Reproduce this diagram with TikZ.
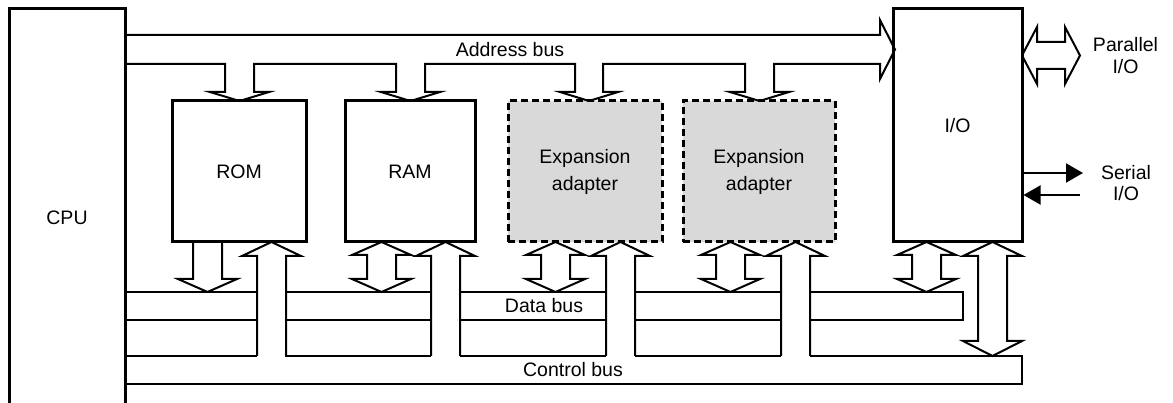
\documentclass[tikz,border=0pt]{standalone}
\usepackage{fontspec}
\setmainfont{Liberation Sans}
\usetikzlibrary{arrows.meta}
\begin{document}
\begin{tikzpicture}[x=1pt,y=-1pt, line join=miter,
  box/.style={draw, line width=3pt, inner sep=0pt, align=center, fill=white,
    font=\fontsize{19.5}{27}\selectfont},
  expbox/.style={box, fill=black!15, dash pattern=on 7pt off 4pt},
  bus/.style={line width=2pt},
  lbl/.style={font=\fontsize{19.5}{22}\selectfont, inner sep=0pt, align=center},
  sig/.style={line width=2pt, -{Triangle[length=17pt,width=19pt]}}]
\useasboundingbox (0,0) rectangle (1173,403);

% CPU
\draw[line width=3pt] (9,410) -- (9,9) -- (125,9) -- (125,410);
\node[lbl] (cpu) at (67,218) {CPU};

% boxes
\node[box, minimum width=134pt, minimum height=141pt] (rom) at (239,171.5) {ROM};
\node[box, minimum width=130pt, minimum height=141pt] (ram) at (410,171.5) {RAM};
\node[expbox, minimum width=154pt, minimum height=141pt] (exp1) at (585,171.5) {Expansion\\adapter};
\node[expbox, minimum width=152pt, minimum height=141pt] (exp2) at (759,171.5) {Expansion\\adapter};
\node[box, minimum width=129pt, minimum height=233pt] (io) at (957.5,125.5) {I/O};

% address bus
\draw[bus] (125,35) -- (880,35) -- (880,20) -- (895,49.5) -- (880,79) -- (880,64)
  -- (774,64) -- (774,92) -- (789,92) -- (759.5,101) -- (730,92) -- (745,92) -- (745,64)
  -- (603,64) -- (603,92) -- (618,92) -- (589,101) -- (560,92) -- (575,92) -- (575,64)
  -- (425,64) -- (425,92) -- (440,92) -- (410.5,101) -- (381,92) -- (396,92) -- (396,64)
  -- (254,64) -- (254,92) -- (269,92) -- (239.5,101) -- (210,92) -- (225,92) -- (225,64)
  -- (125,64);
\node[lbl] (addr) at (510,50) {Address bus};

% data and control bus lines
\foreach \a/\b in {125/257, 285/431, 460/606, 635/781} {
  \draw[bus] (\a,292) -- (\b,292);
  \draw[bus] (\a,320) -- (\b,320);
  \draw[bus] (\a,356) -- (\b,356);
}
\draw[bus] (810,292) -- (963,292) -- (963,320) -- (810,320);
\draw[bus] (810,356) -- (1022,356) -- (1022,384) -- (125,384);
\node[lbl] (data) at (544,306) {Data bus};
\node[lbl] (ctrl) at (573,370) {Control bus};

% ROM -> data bus
\draw[bus] (193,242) -- (193,279) -- (178,279) -- (207.5,292) -- (237,279) -- (222,279) -- (222,242);

% control bus -> boxes
\foreach \a in {257,431,606,781} {
  \draw[bus] (\a,356) -- (\a,256) -- ({\a-15},256) -- ({\a+14.5},242) -- ({\a+44},256)
    -- ({\a+29},256) -- ({\a+29},356);
}

% boxes <-> data bus
\foreach \a in {367,541,716,912} {
  \draw[bus] (\a,255) -- ({\a-15},255) -- ({\a+14.5},242) -- ({\a+44},255) -- ({\a+29},255)
    -- ({\a+29},279) -- ({\a+44},279) -- ({\a+14.5},292) -- ({\a-15},279) -- (\a,279) -- cycle;
}

% I/O <-> control bus
\draw[bus] (978,256) -- (963,256) -- (992.5,242) -- (1022,256) -- (1007,256)
  -- (1007,341) -- (1022,341) -- (992.5,356) -- (963,341) -- (978,341) -- cycle;

% parallel I/O
\draw[bus] (1022,55.5) -- (1037,27) -- (1037,42) -- (1065,42) -- (1065,27) -- (1080,55.5)
  -- (1065,84) -- (1065,69) -- (1037,69) -- (1037,84) -- cycle;
\node[lbl] (par) at (1125.5,56) {Parallel\\I/O};

% serial I/O
\coordinate (sout) at (1083,173);
\coordinate (sin) at (1080,195);
\draw[sig] (io.east |- sout) -- (sout);
\draw[sig] (sin) -- (io.east |- sin);
\node[lbl, font=\fontsize{19.5}{21}\selectfont] (ser) at (1126,183) {Serial\\I/O};
\end{tikzpicture}
\end{document}
